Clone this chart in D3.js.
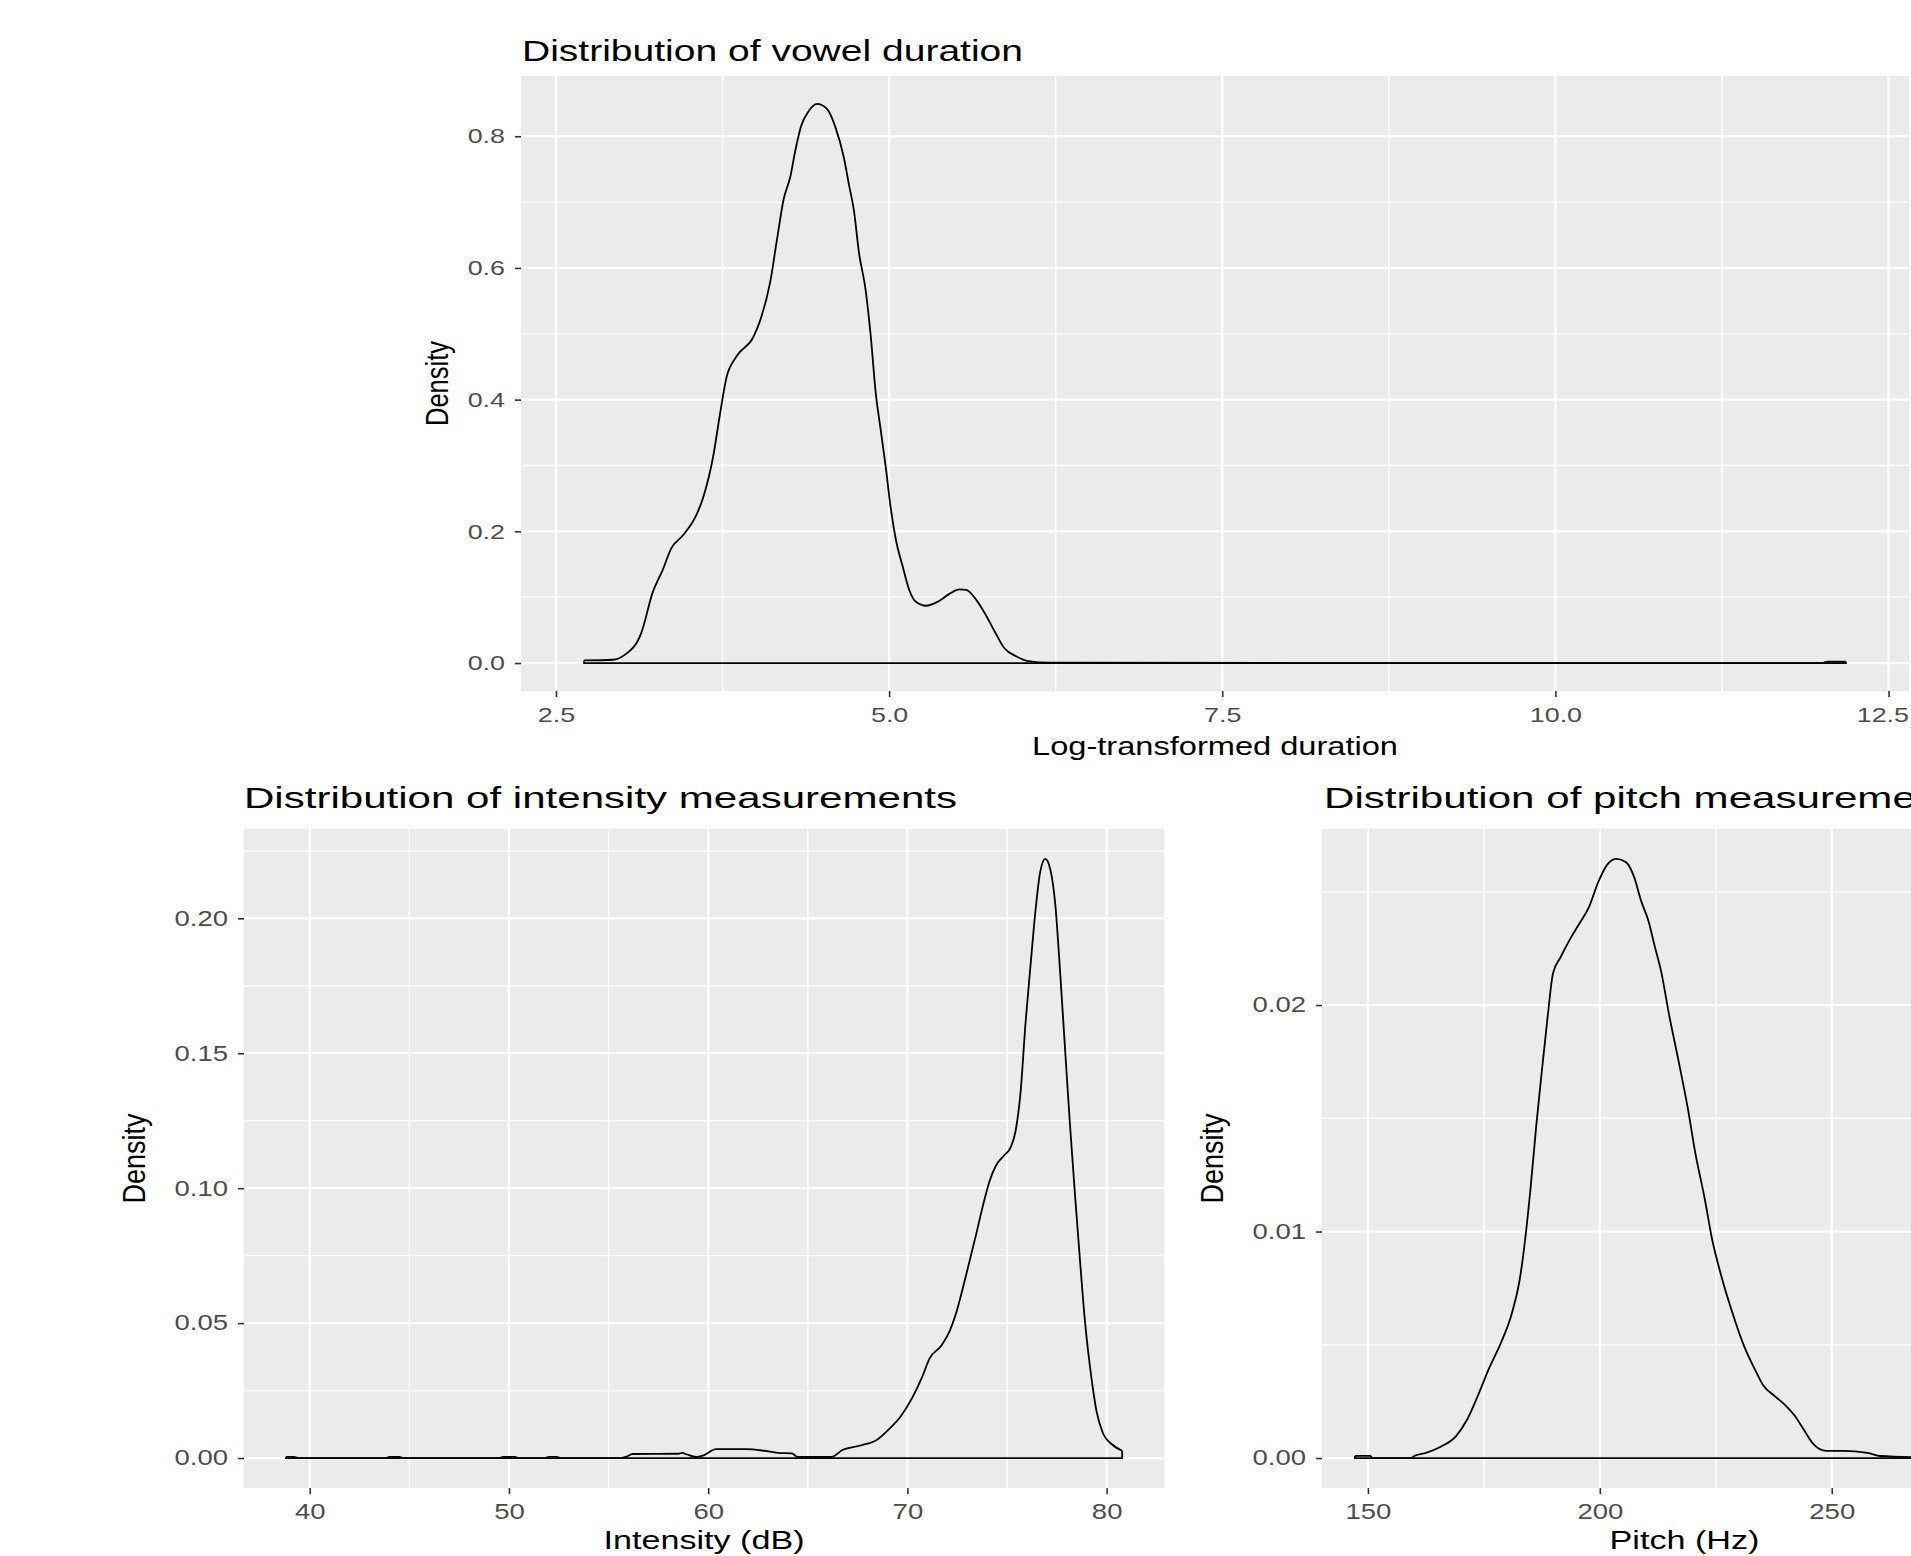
<!DOCTYPE html>
<html>
<head>
<meta charset="utf-8">
<script src="https://cdn.jsdelivr.net/npm/d3@7"></script>
<style>
  body { margin: 0; background: #fff; }
  svg { display: block; font-family: "Liberation Sans", Arial, sans-serif; }
</style>
</head>
<body>
<svg id="chart" width="1911" height="1556"></svg>
<script>
// vowel duration density (log-transformed)
const durX = [2.711, 2.925, 3.013, 3.139, 3.227, 3.302, 3.365, 3.453, 3.554, 3.604,
  3.68, 3.73, 3.78, 3.856, 3.981, 4.032, 4.107, 4.157, 4.208, 4.258,
  4.296, 4.339, 4.396, 4.459, 4.535, 4.598, 4.661, 4.698, 4.736, 4.774,
  4.824, 4.862, 4.899, 4.937, 4.975, 5.013, 5.05, 5.1, 5.151, 5.201,
  5.277, 5.364, 5.452, 5.528, 5.578, 5.654, 5.717, 5.792, 5.867, 5.956,
  6.044, 6.2, 8.0, 10.0, 12.0, 12.04, 12.1, 12.18];
const durY = [0.004, 0.005, 0.012, 0.045, 0.108, 0.142, 0.174, 0.194, 0.225, 0.251,
  0.314, 0.377, 0.434, 0.466, 0.495, 0.520, 0.578, 0.641, 0.704, 0.738,
  0.778, 0.815, 0.838, 0.849, 0.841, 0.813, 0.767, 0.727, 0.687, 0.623,
  0.566, 0.497, 0.411, 0.354, 0.297, 0.234, 0.188, 0.148, 0.111, 0.093,
  0.087, 0.093, 0.105, 0.112, 0.111, 0.096, 0.076, 0.048, 0.022, 0.010,
  0.003, 0.0005, 0, 0, 0, 0.002, 0.002, 0.002];
const durXTicks = [2.5, 5, 7.5, 10, 12.5];
const durXLabels = ["2.5", "5.0", "7.5", "10.0", "12.5"];
const durYTicks = [0, 0.2, 0.4, 0.6, 0.8];
const durYLabels = ["0.0", "0.2", "0.4", "0.6", "0.8"];

// intensity density
const intX = [38.8, 39.2, 39.5, 43.8, 44.0, 44.5, 44.7, 49.5, 49.7, 50.3,
  50.5, 51.8, 52.0, 52.4, 52.6, 55.6, 55.9, 56.2, 58.5, 58.7,
  58.9, 59.4, 59.7, 60.4, 61.9, 62.8, 63.5, 64.2, 64.5, 66.2,
  66.74, 67.73, 68.48, 69.06, 69.64, 70.22, 70.71, 71.13, 71.71, 72.12,
  72.45, 72.78, 73.11, 73.44, 73.78, 74.11, 74.44, 74.85, 75.18, 75.43,
  75.68, 75.93, 76.18, 76.42, 76.67, 76.92, 77.17, 77.42, 77.67, 77.92,
  78.16, 78.41, 78.66, 78.91, 79.24, 79.49, 79.82, 80.23, 80.78];
const intY = [0.0004, 0.0004, 0, 0, 0.0004, 0.0004, 0, 0, 0.0004, 0.0004,
  0, 0, 0.0004, 0.0004, 0, 0, 0.0005, 0.0015, 0.0016, 0.0019,
  0.0014, 0.0004, 0.0008, 0.0033, 0.0033, 0.0027, 0.0019, 0.0017, 0.0004, 0.0004,
  0.003, 0.0048, 0.0068, 0.0106, 0.0152, 0.022, 0.0295, 0.0371, 0.0417, 0.047,
  0.0538, 0.0629, 0.0727, 0.0826, 0.0932, 0.1023, 0.1083, 0.1121, 0.1151, 0.1212,
  0.1356, 0.1613, 0.1826, 0.2022, 0.2174, 0.222, 0.2182, 0.2053, 0.1795, 0.1507,
  0.1235, 0.0977, 0.0735, 0.0508, 0.0295, 0.0174, 0.0091, 0.0053, 0.0027];
const intXTicks = [40, 50, 60, 70, 80];
const intXLabels = ["40", "50", "60", "70", "80"];
const intYTicks = [0, 0.05, 0.10, 0.15, 0.20];
const intYLabels = ["0.00", "0.05", "0.10", "0.15", "0.20"];

// pitch density
const pitchX = [147.2, 148.5, 150.5, 151.0, 159.3, 160.1, 162.5, 165.7, 168.95, 171.4,
  173.8, 176.2, 178.6, 181.05, 182.7, 183.9, 185.1, 186.3, 187.5, 188.7,
  189.9, 191.5, 193.55, 195.6, 197.6, 199.6, 201.6, 203.6, 205.65, 207.3,
  208.9, 210.5, 211.7, 213.3, 214.9, 216.9, 219.0, 220.6, 222.6, 224.2,
  226.2, 228.6, 231.05, 233.5, 235.1, 237.9, 239.9, 241.9, 243.95, 246.0,
  248.8, 252.4, 257.7, 260.5, 268.0, 275.0, 282.0, 289.3];
const pitchY = [0.0001, 0.0001, 0.0001, 0, 0, 0.0001, 0.00023, 0.0005, 0.00096, 0.0017,
  0.0028, 0.004, 0.00505, 0.0064, 0.00785, 0.00966, 0.012, 0.0147, 0.0171, 0.0194,
  0.0214, 0.0221, 0.0229, 0.0236, 0.0243, 0.0254, 0.0262, 0.02645, 0.0263, 0.0257,
  0.0246, 0.0237, 0.0227, 0.0214, 0.0196, 0.0176, 0.0154, 0.01345, 0.01146, 0.00966,
  0.00803, 0.0064, 0.00496, 0.00388, 0.00325, 0.0027, 0.00235, 0.0019, 0.00126, 0.00063,
  0.00032, 0.00032, 0.00023, 0.00009, 0.00004, 0.00003, 0.00002, 0.00002];
const pitchXTicks = [150, 200, 250];
const pitchXLabels = ["150", "200", "250"];
const pitchYTicks = [0, 0.01, 0.02];
const pitchYLabels = ["0.00", "0.01", "0.02"];

const svg = d3.select("#chart");
const W = 1911;
const S = 1.28; // the source picture is stretched sideways

// ggplot-style 5% padding
function expand(ext) {
  const pad = (ext[1] - ext[0]) * 0.05;
  return [ext[0] - pad, ext[1] + pad];
}

function minorTicks(ticks, domain) {
  const step = ticks[1] - ticks[0];
  const out = ticks.map(t => t - step / 2).concat([ticks[ticks.length - 1] + step / 2]);
  return out.filter(t => t > domain[0] && t < domain[1]);
}

function drawPanel(c) {
  const x = d3.scaleLinear().domain(expand(d3.extent(c.xs))).range([c.left, c.right]);
  const y = d3.scaleLinear().domain(expand(d3.extent(c.ys))).range([c.bottom, c.top]);
  const g = svg.append("g");

  g.append("rect")
    .attr("x", c.left).attr("y", c.top)
    .attr("width", c.right - c.left).attr("height", c.bottom - c.top)
    .attr("fill", "#EBEBEB");

  // grid
  g.selectAll(".hminor").data(minorTicks(c.yTicks, y.domain())).enter().append("line")
    .attr("x1", c.left).attr("x2", c.right)
    .attr("y1", d => y(d)).attr("y2", d => y(d))
    .attr("stroke", "#fff").attr("stroke-width", 1.3);
  g.selectAll(".vminor").data(minorTicks(c.xTicks, x.domain())).enter().append("line")
    .attr("y1", c.top).attr("y2", c.bottom)
    .attr("x1", d => x(d)).attr("x2", d => x(d))
    .attr("stroke", "#fff").attr("stroke-width", 1.5);
  g.selectAll(".hmajor").data(c.yTicks).enter().append("line")
    .attr("x1", c.left).attr("x2", c.right)
    .attr("y1", d => y(d)).attr("y2", d => y(d))
    .attr("stroke", "#fff").attr("stroke-width", 2.2);
  g.selectAll(".vmajor").data(c.xTicks).enter().append("line")
    .attr("y1", c.top).attr("y2", c.bottom)
    .attr("x1", d => x(d)).attr("x2", d => x(d))
    .attr("stroke", "#fff").attr("stroke-width", 2.4);

  // density outline: smooth upper curve, then closed along zero
  const pts = c.xs.map((v, i) => [v, c.ys[i]]);
  const line = d3.line().x(d => x(d[0])).y(d => y(d[1])).curve(d3.curveMonotoneX);
  g.append("path").attr("d", line(pts))
    .attr("fill", "none").attr("stroke", "#000").attr("stroke-width", 1.8);
  const first = pts[0], last = pts[pts.length - 1];
  const close = [[last[0], last[1]], [last[0], 0], [first[0], 0], [first[0], first[1]]];
  g.append("path").attr("d", d3.line().x(d => x(d[0])).y(d => y(d[1]))(close))
    .attr("fill", "none").attr("stroke", "#000").attr("stroke-width", 1.8);

  // axes
  const ax = g.append("g").attr("transform", `translate(0,${c.bottom})`)
    .call(d3.axisBottom(x).tickValues(c.xTicks).tickFormat((d, i) => c.xLabels[i]).tickSize(6));
  const ay = g.append("g").attr("transform", `translate(${c.left},0)`)
    .call(d3.axisLeft(y).tickValues(c.yTicks).tickFormat((d, i) => c.yLabels[i]).tickSize(6));
  [ax, ay].forEach(a => {
    a.select(".domain").remove();
    a.selectAll(".tick line").attr("stroke", "#333").attr("stroke-width", 1.6);
    a.selectAll("text").attr("fill", "#4D4D4D").attr("font-size", c.tickSize)
      .attr("font-family", "Liberation Sans, Arial, sans-serif");
  });
  ax.selectAll("text").attr("y", 31).attr("dy", 0).attr("transform", `scale(${S},1)`);
  ay.selectAll("text").attr("x", -16 / S).attr("transform", `scale(${S},1)`);

  // keep a label at the right edge inside the picture
  ax.selectAll("text").each(function () {
    const r = this.getBoundingClientRect();
    if (r.right > W - 1) d3.select(this).attr("x", -(r.right - W + 2) / S);
  });

  // titles
  g.append("text").attr("x", c.titleX).attr("y", c.titleY)
    .attr("font-size", c.titleSize).attr("fill", "#000")
    .attr("textLength", c.titleLen).attr("lengthAdjust", "spacingAndGlyphs")
    .text(c.title);
  g.append("text").attr("x", (c.left + c.right) / 2).attr("y", c.xTitleY)
    .attr("text-anchor", "middle").attr("font-size", c.xTitleSize).attr("fill", "#000")
    .attr("textLength", c.xTitleLen).attr("lengthAdjust", "spacingAndGlyphs")
    .text(c.xTitle);
  g.append("text")
    .attr("transform", `translate(${c.yTitleX},${(c.top + c.bottom) / 2}) scale(${S},1) rotate(-90)`)
    .attr("text-anchor", "middle").attr("font-size", 25).attr("fill", "#000")
    .attr("textLength", c.yTitleLen).attr("lengthAdjust", "spacingAndGlyphs")
    .text("Density");
}

drawPanel({
  xs: durX, ys: durY, left: 521, right: 1909, top: 76, bottom: 691,
  xTicks: durXTicks, xLabels: durXLabels, yTicks: durYTicks, yLabels: durYLabels,
  tickSize: 21,
  title: "Distribution of vowel duration", titleX: 522, titleY: 61, titleLen: 501, titleSize: 29,
  xTitle: "Log-transformed duration", xTitleY: 755, xTitleLen: 366, xTitleSize: 26,
  yTitleX: 448, yTitleLen: 85
});

drawPanel({
  xs: intX, ys: intY, left: 244, right: 1164, top: 829, bottom: 1488,
  xTicks: intXTicks, xLabels: intXLabels, yTicks: intYTicks, yLabels: intYLabels,
  tickSize: 21.5,
  title: "Distribution of intensity measurements", titleX: 244, titleY: 808, titleLen: 713, titleSize: 29,
  xTitle: "Intensity (dB)", xTitleY: 1549, xTitleLen: 201, xTitleSize: 25,
  yTitleX: 145, yTitleLen: 90
});

drawPanel({
  xs: pitchX, ys: pitchY, left: 1322, right: 2047, top: 829, bottom: 1488,
  xTicks: pitchXTicks, xLabels: pitchXLabels, yTicks: pitchYTicks, yLabels: pitchYLabels,
  tickSize: 21.5,
  title: "Distribution of pitch measurements", titleX: 1324, titleY: 808, titleLen: 648, titleSize: 29,
  xTitle: "Pitch (Hz)", xTitleY: 1549, xTitleLen: 150, xTitleSize: 25,
  yTitleX: 1223, yTitleLen: 90
});
</script>
</body>
</html>
